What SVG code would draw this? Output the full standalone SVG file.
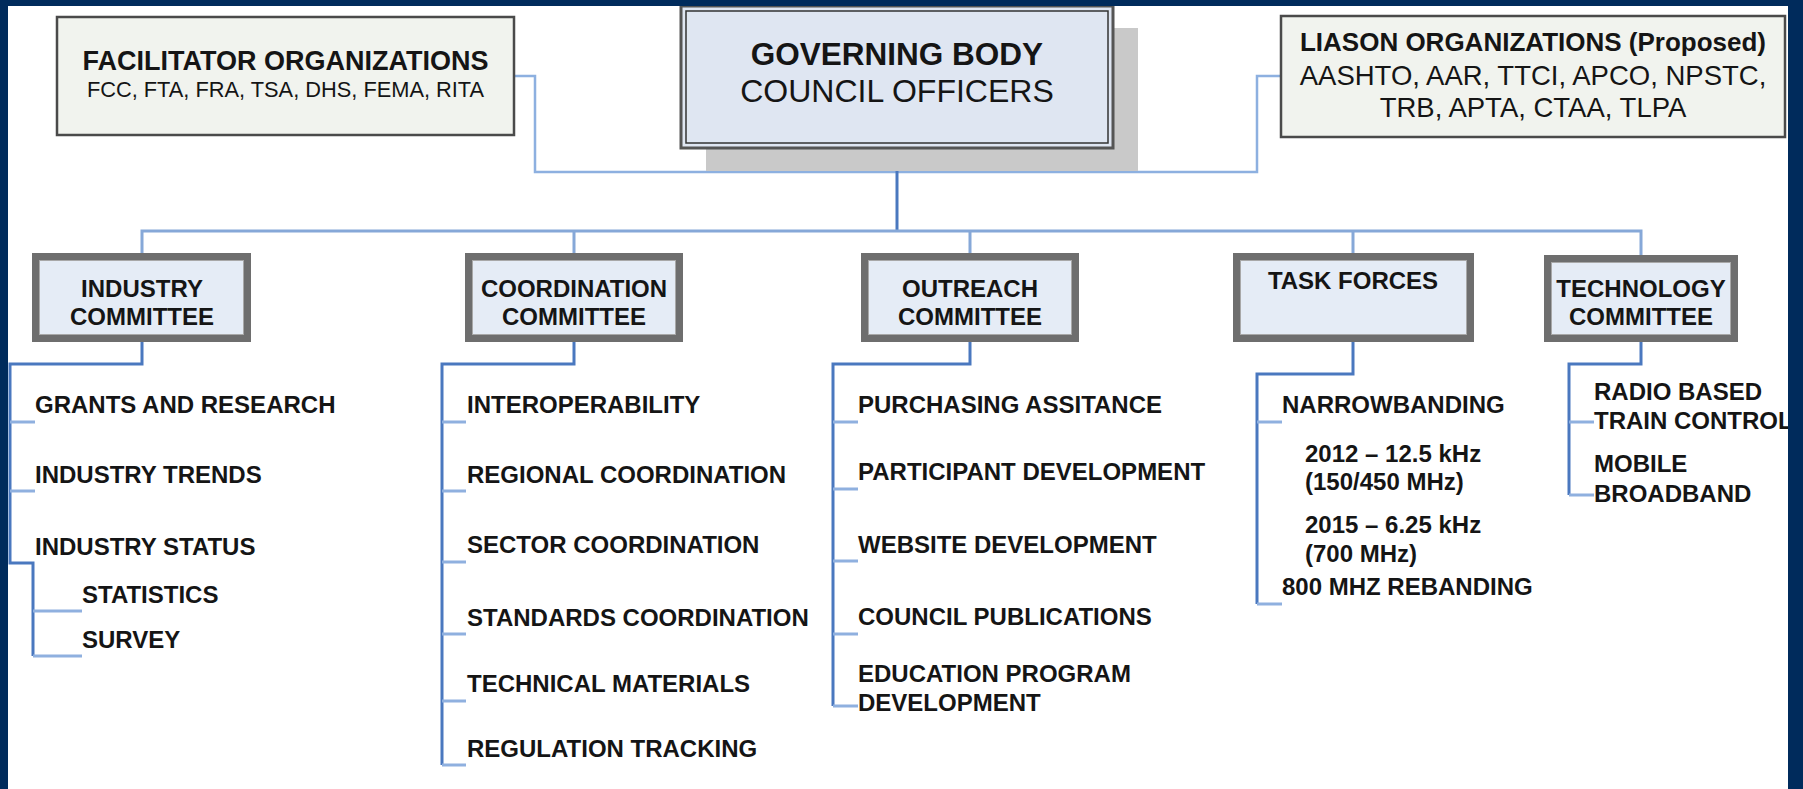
<svg xmlns="http://www.w3.org/2000/svg" width="1803" height="789" viewBox="0 0 1803 789">
<style>
text{font-family:"Liberation Sans",Arial,sans-serif;fill:#151515}
.b{font-weight:bold}
.item{font-weight:bold;font-size:24px}
.cm{font-weight:bold;font-size:24px;text-anchor:middle}
.org{fill:#f1f3ee;stroke:#4a4a4a;stroke-width:2.5}
.cbox{fill:#e5ecf6;stroke:#6e6e6e;stroke-width:7}
.cin{fill:none;stroke:#a8a8a8;stroke-width:1}
.bus{fill:none;stroke:#86a8d8;stroke-width:3}
.dn{fill:none;stroke:#4a78bf;stroke-width:3}
.tk{fill:none;stroke:#8fb0df;stroke-width:3}
.top{fill:none;stroke:#8db0e0;stroke-width:2.5}
</style>
<rect x="0" y="0" width="1803" height="789" fill="#ffffff"/>

<g id="connectors">
  <path class="top" d="M514,76 H535 V172 H1257 V76 H1281"/>
  <path class="dn" d="M897,148 V231"/>
  <path class="bus" d="M142,253 V231 H1641 V255"/>
  <path class="bus" d="M574,231 V253 M970,231 V253 M1353,231 V253"/>
  <!-- industry -->
  <path class="dn" d="M142,342 V364 H10 V563 H33 V656"/>
  <path class="tk" d="M10,422 H35 M10,491 H35 M33,611 H82 M33,656 H82"/>
  <!-- coordination -->
  <path class="dn" d="M574,342 V364 H442 V765"/>
  <path class="tk" d="M442,422 H466 M442,491 H466 M442,562 H466 M442,634 H466 M442,701 H466 M442,765 H466"/>
  <!-- outreach -->
  <path class="dn" d="M970,342 V364 H833 V706"/>
  <path class="tk" d="M833,422 H858 M833,489 H858 M833,561 H858 M833,634 H858 M833,706 H858"/>
  <!-- task forces -->
  <path class="dn" d="M1353,342 V374 H1257 V604"/>
  <path class="tk" d="M1257,422 H1282 M1257,604 H1282"/>
  <!-- technology -->
  <path class="dn" d="M1641,342 V364 H1569 V495"/>
  <path class="tk" d="M1569,422 H1594 M1569,495 H1594"/>
</g>

<g id="facilitator">
  <rect class="org" x="57" y="17" width="457" height="118"/>
  <text class="b" x="285.5" y="70" font-size="27" text-anchor="middle">FACILITATOR ORGANIZATIONS</text>
  <text x="285.5" y="97" font-size="21.8" text-anchor="middle">FCC, FTA, FRA, TSA, DHS, FEMA, RITA</text>
</g>

<g id="governing">
  <rect x="706" y="28" width="432" height="143" fill="#c9c9c9"/>
  <rect x="681" y="6" width="432" height="142" fill="#dfe6f2" stroke="#555" stroke-width="3"/>
  <rect x="686" y="11" width="422" height="132" fill="none" stroke="#333" stroke-width="1.5"/>
  <text class="b" x="897" y="65" font-size="31.5" text-anchor="middle">GOVERNING BODY</text>
  <text x="897" y="102" font-size="32" text-anchor="middle">COUNCIL OFFICERS</text>
</g>

<g id="liason">
  <rect class="org" x="1281" y="16" width="504" height="121"/>
  <text class="b" x="1533" y="51" font-size="26" text-anchor="middle">LIASON ORGANIZATIONS (Proposed)</text>
  <text x="1533" y="85" font-size="27.5" text-anchor="middle">AASHTO, AAR, TTCI, APCO, NPSTC,</text>
  <text x="1533" y="117" font-size="27.5" text-anchor="middle">TRB, APTA, CTAA, TLPA</text>
</g>

<g id="industry">
  <rect class="cbox" x="35.5" y="256.5" width="212" height="82"/>
  <rect class="cin" x="39.5" y="260.5" width="204" height="74"/>
  <text class="cm" x="142" y="297">INDUSTRY</text>
  <text class="cm" x="142" y="325">COMMITTEE</text>
</g>
<g id="industry-items">
  <text class="item" x="35" y="413">GRANTS AND RESEARCH</text>
  <text class="item" x="35" y="483">INDUSTRY TRENDS</text>
  <text class="item" x="35" y="555">INDUSTRY STATUS</text>
  <text class="item" x="82" y="603">STATISTICS</text>
  <text class="item" x="82" y="648">SURVEY</text>
</g>

<g id="coordination">
  <rect class="cbox" x="468.5" y="256.5" width="211" height="82"/>
  <rect class="cin" x="472.5" y="260.5" width="203" height="74"/>
  <text class="cm" x="574" y="297">COORDINATION</text>
  <text class="cm" x="574" y="325">COMMITTEE</text>
</g>
<g id="coordination-items">
  <text class="item" x="467" y="413">INTEROPERABILITY</text>
  <text class="item" x="467" y="483">REGIONAL COORDINATION</text>
  <text class="item" x="467" y="553">SECTOR COORDINATION</text>
  <text class="item" x="467" y="626">STANDARDS COORDINATION</text>
  <text class="item" x="467" y="692">TECHNICAL MATERIALS</text>
  <text class="item" x="467" y="757">REGULATION TRACKING</text>
</g>

<g id="outreach">
  <rect class="cbox" x="864.5" y="256.5" width="211" height="82"/>
  <rect class="cin" x="868.5" y="260.5" width="203" height="74"/>
  <text class="cm" x="970" y="297">OUTREACH</text>
  <text class="cm" x="970" y="325">COMMITTEE</text>
</g>
<g id="outreach-items">
  <text class="item" x="858" y="413">PURCHASING ASSITANCE</text>
  <text class="item" x="858" y="480">PARTICIPANT DEVELOPMENT</text>
  <text class="item" x="858" y="553">WEBSITE DEVELOPMENT</text>
  <text class="item" x="858" y="625">COUNCIL PUBLICATIONS</text>
  <text class="item" x="858" y="682">EDUCATION PROGRAM</text>
  <text class="item" x="858" y="711">DEVELOPMENT</text>
</g>

<g id="taskforces">
  <rect class="cbox" x="1236.5" y="256.5" width="234" height="82"/>
  <rect class="cin" x="1240.5" y="260.5" width="226" height="74"/>
  <text class="cm" x="1353" y="289">TASK FORCES</text>
</g>
<g id="taskforces-items">
  <text class="item" x="1282" y="413">NARROWBANDING</text>
  <text class="item" x="1305" y="462">2012 – 12.5 kHz</text>
  <text class="item" x="1305" y="490">(150/450 MHz)</text>
  <text class="item" x="1305" y="533">2015 – 6.25 kHz</text>
  <text class="item" x="1305" y="562">(700 MHz)</text>
  <text class="item" x="1282" y="595">800 MHZ REBANDING</text>
</g>

<g id="technology">
  <rect class="cbox" x="1547.5" y="258.5" width="187" height="80"/>
  <rect class="cin" x="1551.5" y="262.5" width="179" height="72"/>
  <text class="cm" x="1641" y="297">TECHNOLOGY</text>
  <text class="cm" x="1641" y="325">COMMITTEE</text>
</g>
<g id="technology-items">
  <text class="item" x="1594" y="400">RADIO BASED</text>
  <text class="item" x="1594" y="429">TRAIN CONTROL</text>
  <text class="item" x="1594" y="472">MOBILE</text>
  <text class="item" x="1594" y="502">BROADBAND</text>
</g>

<g id="frame" fill="#002b5c">
  <rect x="0" y="0" width="1803" height="6"/>
  <rect x="0" y="0" width="8" height="789"/>
  <rect x="1788" y="0" width="15" height="789"/>
</g>
</svg>
